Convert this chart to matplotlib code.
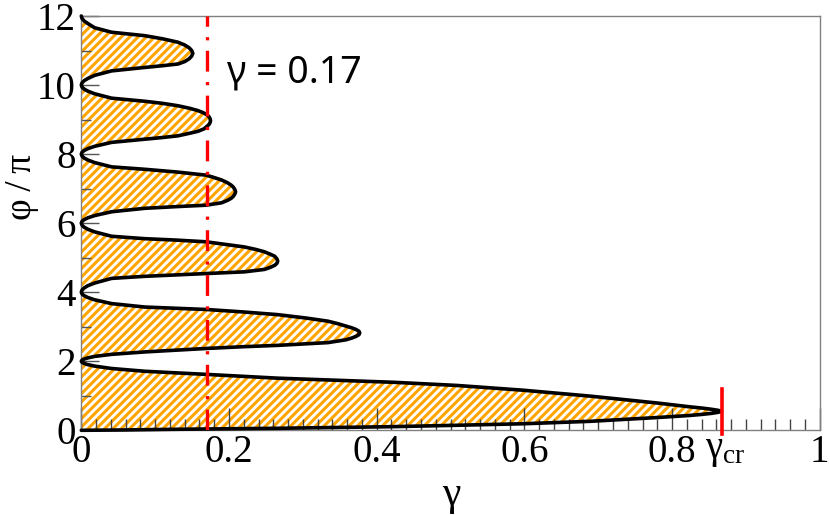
import matplotlib
matplotlib.use("Agg")
import matplotlib.pyplot as plt
from matplotlib.ticker import MultipleLocator, FixedLocator

plt.rcParams['font.family'] = ['Liberation Serif', 'DejaVu Serif']
plt.rcParams['mathtext.fontset'] = 'custom'
plt.rcParams['mathtext.rm'] = 'Liberation Serif'
plt.rcParams['hatch.linewidth'] = 2.2
plt.rcParams['lines.scale_dashes'] = False

# ---- data: gamma as a function of phi/pi ----
phi_lobe1 = [0.00, 0.01, 0.03, 0.058, 0.104, 0.145, 0.19, 0.26, 0.37, 0.43, 0.46, 0.49, 0.52, 0.55,
             0.58, 0.61, 0.645, 0.68, 0.79, 0.99, 1.16, 1.30, 1.39, 1.44, 1.51, 1.62, 1.71, 1.79,
             1.86, 1.902, 1.935, 1.967]
gam_lobe1 = [0.0, 0.06, 0.131, 0.266, 0.418, 0.508, 0.599, 0.689, 0.780, 0.824, 0.840, 0.853, 0.862, 0.867,
             0.862, 0.853, 0.840, 0.824, 0.780, 0.689, 0.599, 0.508, 0.424, 0.357, 0.266, 0.169, 0.086, 0.041,
             0.018, 0.009, 0.004, 0.001]

phi_lobe2 = [2.0, 2.033, 2.065, 2.098, 2.14, 2.20, 2.27, 2.32, 2.37, 2.42, 2.46, 2.54, 2.62, 2.67,
             2.72, 2.77, 2.82, 2.87, 2.92, 2.97, 3.02, 3.09, 3.16, 3.25, 3.35, 3.43, 3.50, 3.535,
             3.57, 3.67, 3.78, 3.845, 3.897, 3.948]
gam_lobe2 = [0.0, 0.001, 0.004, 0.009, 0.018, 0.041, 0.086, 0.127, 0.169, 0.218, 0.266, 0.334, 0.358, 0.366,
             0.372, 0.376, 0.377, 0.376, 0.372, 0.366, 0.358, 0.347, 0.334, 0.305, 0.266, 0.218, 0.169, 0.127,
             0.086, 0.041, 0.018, 0.009, 0.004, 0.001]

phi_lobe3 = [4.0, 4.062, 4.125, 4.19, 4.265, 4.40, 4.46, 4.50, 4.54, 4.59, 4.66, 4.72, 4.78, 4.84,
             4.90, 4.96, 5.04, 5.10, 5.17, 5.24, 5.31, 5.46, 5.51, 5.55, 5.62, 5.748, 5.822, 5.881, 5.941]
gam_lobe3 = [0.0, 0.001, 0.004, 0.009, 0.018, 0.041, 0.086, 0.128, 0.169, 0.221, 0.248, 0.256, 0.262, 0.265,
             0.266, 0.265, 0.262, 0.256, 0.248, 0.236, 0.221, 0.169, 0.128, 0.086, 0.041, 0.018, 0.009, 0.004, 0.001]

phi_lobe4 = [6.0, 6.052, 6.103, 6.155, 6.219, 6.33, 6.43, 6.48, 6.52, 6.59, 6.66, 6.72, 6.78, 6.85,
             6.91, 6.97, 7.04, 7.10, 7.17, 7.25, 7.32, 7.39, 7.48, 7.56, 7.63, 7.755, 7.827, 7.885, 7.942]
gam_lobe4 = [0.0, 0.001, 0.004, 0.009, 0.018, 0.041, 0.086, 0.130, 0.169, 0.190, 0.198, 0.203, 0.206, 0.208,
             0.209, 0.208, 0.206, 0.203, 0.198, 0.190, 0.180, 0.169, 0.130, 0.086, 0.041, 0.018, 0.009, 0.004, 0.001]

phi_lobe5 = [8.0, 8.053, 8.106, 8.159, 8.225, 8.34, 8.43, 8.48, 8.53, 8.60, 8.66, 8.73, 8.80, 8.86,
             8.92, 8.97, 9.02, 9.08, 9.14, 9.20, 9.26, 9.33, 9.40, 9.47, 9.53, 9.62, 9.748, 9.822, 9.881, 9.941]
gam_lobe5 = [0.0, 0.001, 0.004, 0.009, 0.018, 0.041, 0.086, 0.110, 0.131, 0.146, 0.158, 0.166, 0.170, 0.173,
             0.1745, 0.175, 0.1745, 0.173, 0.170, 0.165, 0.158, 0.146, 0.131, 0.110, 0.086, 0.041, 0.018, 0.009,
             0.004, 0.001]

phi_lobe6 = [10.0, 10.064, 10.128, 10.192, 10.28, 10.41, 10.46, 10.51, 10.56, 10.61, 10.68, 10.76, 10.84,
             10.92, 11.00, 11.08, 11.16, 11.24, 11.34, 11.43, 11.48, 11.53, 11.66, 11.78, 11.853, 11.927, 12.0]
gam_lobe6 = [0.0, 0.001, 0.004, 0.009, 0.018, 0.041, 0.063, 0.086, 0.110, 0.131, 0.140, 0.146, 0.1495,
             0.151, 0.1495, 0.146, 0.140, 0.131, 0.110, 0.086, 0.063, 0.041, 0.018, 0.009, 0.004, 0.001, 0.0]

gamma_marked = 0.17          # dash-dot line
gamma_cr = 0.867             # critical value (short red bar)
cr_bar_phi = [-0.1, 1.2]

x_ticks = [0, 0.2, 0.4, 0.6, 0.8, 1.0]
x_ticklabels = ['0', '0.2', '0.4', '0.6', '0.8', '1']
y_ticks = [0, 2, 4, 6, 8, 10, 12]
y_ticklabels = ['0', '2', '4', '6', '8', '10', '12']

phi = phi_lobe1 + phi_lobe2 + phi_lobe3 + phi_lobe4 + phi_lobe5 + phi_lobe6
gam = gam_lobe1 + gam_lobe2 + gam_lobe3 + gam_lobe4 + gam_lobe5 + gam_lobe6

fig = plt.figure(figsize=(8.3, 5.15), dpi=100)
ax = fig.add_axes([81.3 / 830, 1 - 430.3 / 515, (819.8 - 81.3) / 830, (430.3 - 16) / 515])

ax.fill_betweenx(phi, 0, gam, facecolor='white', edgecolor='orange', hatch='////',
                 linewidth=0, zorder=1)
ax.plot(gam, phi, color='black', lw=2.6, zorder=3, clip_on=False,
        solid_joinstyle='round', solid_capstyle='round')

ax.plot([gamma_marked, gamma_marked], [0, 12], color='red', lw=2.4,
        dashes=(15, 7.5, 2.3, 7.5), zorder=4)
ax.plot([gamma_cr, gamma_cr], cr_bar_phi, color='red', lw=2.6, zorder=5, clip_on=False)

ax.set_xlim(0, 1)
ax.set_ylim(0, 12)

ax.xaxis.set_major_locator(FixedLocator(x_ticks))
ax.set_xticklabels(x_ticklabels)
ax.xaxis.set_minor_locator(MultipleLocator(0.02))
ax.yaxis.set_major_locator(FixedLocator(y_ticks))
ax.set_yticklabels(y_ticklabels)
ax.yaxis.set_minor_locator(MultipleLocator(1))

ax.tick_params(axis='x', which='major', direction='in', length=16, width=1.0,
               color='#444444', labelsize=28, pad=3)
ax.tick_params(axis='x', which='minor', direction='in', length=8, width=1.0, color='#444444')
ax.tick_params(axis='y', which='major', direction='in', length=13, width=1.0,
               color='#555555', labelsize=28, pad=4)
ax.tick_params(axis='y', which='minor', direction='in', length=7, width=1.0, color='#555555')

for s in ax.spines.values():
    s.set_color('#808080')
    s.set_linewidth(1.0)

ax.text(0.845, -0.80, r'$\mathregular{γ_{cr}}$', fontsize=28, ha='left', va='baseline',
        clip_on=False)
ax.text(0.197, 10.06, 'γ = 0.17', fontsize=27, ha='left', va='baseline',
        family=['Noto Sans', 'DejaVu Sans'])

fig.text(451 / 830, 1 - 495 / 515, 'γ', fontsize=30, ha='center', va='center')
fig.text(22 / 830, 1 - 187 / 515, 'φ\u2009/\u2009π', fontsize=27, ha='center', va='center',
         rotation=90)

fig.savefig('out.png', dpi=100)
